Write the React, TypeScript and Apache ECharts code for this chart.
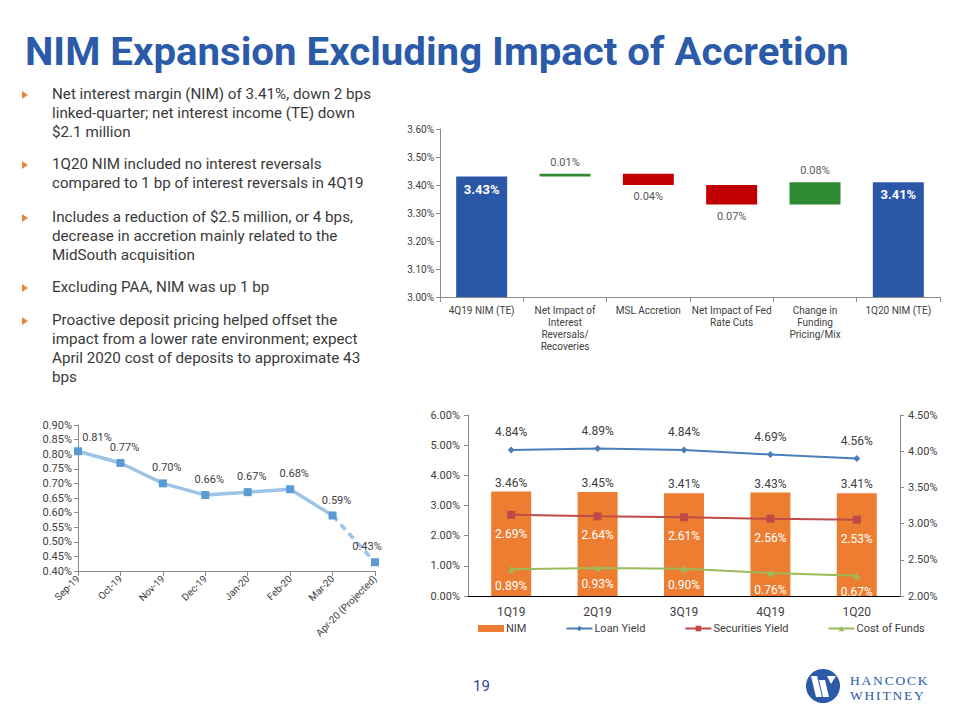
import React, { useEffect, useRef } from "react";
import * as echarts from "echarts";

// ---------- data ----------
const wfCategories = [
  "4Q19 NIM (TE)",
  "Net Impact of\nInterest\nReversals/\nRecoveries",
  "MSL Accretion",
  "Net Impact of Fed\nRate Cuts",
  "Change in\nFunding\nPricing/Mix",
  "1Q20 NIM (TE)",
];
const wfStart = 3.43;
const wfChanges = [0.01, -0.04, -0.07, 0.08];
const wfEnd = 3.41;
const wfTicks = { min: 3.0, max: 3.6, interval: 0.1 };

const months = ["Sep-19", "Oct-19", "Nov-19", "Dec-19", "Jan-20", "Feb-20", "Mar-20", "Apr-20 (Projected)"];
const depositCost = [0.81, 0.77, 0.7, 0.66, 0.67, 0.68, 0.59, 0.43];
const projectedCount = 1; // last point(s) projected
const depTicks = { min: 0.4, max: 0.9, interval: 0.05 };

const quarters = ["1Q19", "2Q19", "3Q19", "4Q19", "1Q20"];
const nimValues = [3.46, 3.45, 3.41, 3.43, 3.41];
const loanYield = [4.84, 4.89, 4.84, 4.69, 4.56];
const securitiesYield = [2.69, 2.64, 2.61, 2.56, 2.53];
const costOfFunds = [0.89, 0.93, 0.9, 0.76, 0.67];
const leftTicks = { min: 0, max: 6, interval: 1 };
const rightTicks = { min: 2, max: 4.5, interval: 0.5 };

const bullets = [
  ["Net interest margin (NIM) of 3.41%, down 2 bps", "linked-quarter; net interest income (TE) down", "$2.1 million"],
  ["1Q20 NIM included no interest reversals", "compared to 1 bp of interest reversals  in 4Q19"],
  ["Includes a reduction of $2.5 million, or 4 bps,", "decrease  in accretion  mainly related to the", "MidSouth acquisition"],
  ["Excluding PAA, NIM was up 1 bp"],
  ["Proactive deposit pricing helped offset the", "impact from a lower rate environment; expect", "April 2020 cost of deposits to approximate 43", "bps"],
];
const bulletTops = [95, 165, 218, 288, 321];

// ---------- styles ----------
const FONT = "Roboto, 'Liberation Sans', sans-serif";
const TXT = "#404040";
const AXIS = "#8c8c8c";
const BLUE = "#2A57A6";
const RED = "#C00000";
const GREEN = "#2E8B32";
const pct = (v: number) => v.toFixed(2) + "%";
const r2 = (v: number) => Math.round(v * 100) / 100;

function buildWaterfall() {
  const bases: number[] = [0];
  const items: any[] = [
    {
      value: wfStart,
      itemStyle: { color: BLUE },
      label: { show: true, position: "insideTop", color: "#fff", fontWeight: "bold", fontSize: 13, distance: 6, formatter: pct(wfStart) },
    },
  ];
  let level = wfStart;
  wfChanges.forEach((c) => {
    let base: number;
    if (c >= 0) {
      base = level;
      level = r2(level + c);
    } else {
      level = r2(level + c);
      base = level;
    }
    bases.push(base);
    items.push({
      value: r2(Math.abs(c)),
      itemStyle: { color: c >= 0 ? GREEN : RED },
      label: {
        show: true,
        position: c >= 0 ? "top" : "bottom",
        color: "#595959",
        fontSize: 11,
        distance: 6,
        formatter: pct(Math.abs(c)),
      },
    });
  });
  bases.push(0);
  items.push({
    value: wfEnd,
    itemStyle: { color: BLUE },
    label: { show: true, position: "insideTop", color: "#fff", fontWeight: "bold", fontSize: 13, distance: 6, formatter: pct(wfEnd) },
  });
  return { bases, items };
}

export default function App() {
  const ref = useRef<HTMLDivElement>(null);
  useEffect(() => {
    if (!ref.current) return;
    const chart = echarts.init(ref.current, undefined, { renderer: "svg" });
    const wf = buildWaterfall();
    const n = depositCost.length;
    const solid = depositCost.map((v, i) => (i < n - projectedCount ? v : null));
    const dashed = depositCost.map((v, i) => (i >= n - projectedCount - 1 ? v : null));
    const depLabelOffset = (i: number) => (i === 0 ? [19, 2] : i === n - 1 ? [-8, 0] : [4, 0]);

    const axisLineStyle = { show: true, lineStyle: { color: AXIS, width: 1 } };
    const axisTick = { show: true, length: 4, lineStyle: { color: AXIS } };
    const labelStyle = { color: TXT, fontFamily: FONT, fontSize: 11 };

    chart.setOption({
      animation: false,
      textStyle: { fontFamily: FONT },
      grid: [
        { left: 440, top: 129, width: 500, height: 168 },
        { left: 78, top: 425, width: 297, height: 146 },
        { left: 468, top: 415, width: 432, height: 181 },
      ],
      xAxis: [
        {
          gridIndex: 0,
          type: "category",
          data: wfCategories,
          axisLine: axisLineStyle,
          axisTick: { show: true, length: 5, lineStyle: { color: AXIS } },
          axisLabel: { ...labelStyle, fontSize: 10, lineHeight: 12, margin: 7, interval: 0 },
        },
        {
          gridIndex: 1,
          type: "category",
          data: months,
          boundaryGap: false,
          axisLine: axisLineStyle,
          axisTick: { show: true, length: 5, lineStyle: { color: AXIS } },
          axisLabel: { ...labelStyle, fontSize: 10, rotate: 45, margin: 6, interval: 0 },
        },
        {
          gridIndex: 2,
          type: "category",
          data: quarters,
          axisLine: { show: true, lineStyle: { color: "#000", width: 1 } },
          axisTick: { show: false },
          axisLabel: { ...labelStyle, fontSize: 12, margin: 10 },
        },
      ],
      yAxis: [
        {
          gridIndex: 0,
          type: "value",
          ...wfTicks,
          axisLine: axisLineStyle,
          axisTick,
          splitLine: { show: false },
          axisLabel: { ...labelStyle, fontSize: 10, margin: 6, formatter: (v: number) => pct(v) },
        },
        {
          gridIndex: 1,
          type: "value",
          ...depTicks,
          axisLine: axisLineStyle,
          axisTick,
          splitLine: { show: false },
          axisLabel: { ...labelStyle, fontSize: 11, margin: 6, formatter: (v: number) => pct(v) },
        },
        {
          gridIndex: 2,
          type: "value",
          ...leftTicks,
          axisLine: axisLineStyle,
          axisTick,
          splitLine: { show: false },
          axisLabel: { ...labelStyle, fontSize: 11, margin: 8, formatter: (v: number) => pct(v) },
        },
        {
          gridIndex: 2,
          type: "value",
          position: "right",
          ...rightTicks,
          axisLine: axisLineStyle,
          axisTick,
          splitLine: { show: false },
          axisLabel: { ...labelStyle, fontSize: 11, margin: 8, formatter: (v: number) => pct(v) },
        },
      ],
      legend: {
        left: 473,
        top: 618,
        itemWidth: 26,
        itemHeight: 7,
        itemGap: 39,
        textStyle: { color: TXT, fontSize: 11, fontFamily: FONT, padding: [0, 0, 0, -3] },
        data: [
          { name: "NIM", icon: "rect" },
          { name: "Loan Yield" },
          { name: "Securities Yield" },
          { name: "Cost of Funds" },
        ],
      },
      series: [
        {
          type: "bar",
          xAxisIndex: 0,
          yAxisIndex: 0,
          stack: "wf",
          data: wf.bases,
          barWidth: 51,
          itemStyle: { color: "transparent" },
          silent: true,
        },
        {
          type: "bar",
          xAxisIndex: 0,
          yAxisIndex: 0,
          stack: "wf",
          data: wf.items,
          barWidth: 51,
        },
        {
          type: "line",
          xAxisIndex: 1,
          yAxisIndex: 1,
          data: solid.map((v, i) => ({
            value: v,
            label: { offset: depLabelOffset(i) },
          })),
          lineStyle: { color: "#9DC3E6", width: 3.5 },
          symbol: "rect",
          symbolSize: 8,
          itemStyle: { color: "#5B9BD5" },
          label: { show: true, position: "top", distance: 6, color: TXT, fontSize: 11, formatter: (p: any) => pct(p.value) },
          z: 3,
        },
        {
          type: "line",
          xAxisIndex: 1,
          yAxisIndex: 1,
          data: dashed.map((v, i) => ({
            value: v,
            symbol: i === n - 1 ? "rect" : "none",
            label: { show: i === n - 1, offset: depLabelOffset(i) },
          })),
          lineStyle: { color: "#9DC3E6", width: 3.5, type: [7, 5] },
          symbol: "rect",
          symbolSize: 8,
          itemStyle: { color: "#5B9BD5" },
          label: { position: "top", distance: 6, color: TXT, fontSize: 11, formatter: (p: any) => pct(p.value) },
          z: 2,
        },
        {
          name: "NIM",
          type: "bar",
          xAxisIndex: 2,
          yAxisIndex: 2,
          data: nimValues,
          barWidth: 40,
          itemStyle: { color: "#ED7D31" },
          label: { show: true, position: "top", distance: 3, color: TXT, fontSize: 12, formatter: (p: any) => pct(p.value) },
        },
        {
          name: "Loan Yield",
          type: "line",
          xAxisIndex: 2,
          yAxisIndex: 2,
          data: loanYield,
          symbol: "diamond",
          symbolSize: 7,
          lineStyle: { color: "#4A7EBB", width: 2 },
          itemStyle: { color: "#4A7EBB" },
          label: { show: true, position: "top", distance: 8, color: TXT, fontSize: 12, formatter: (p: any) => pct(p.value) },
        },
        {
          name: "Securities Yield",
          type: "line",
          xAxisIndex: 2,
          yAxisIndex: 2,
          data: securitiesYield,
          symbol: "rect",
          symbolSize: 8,
          lineStyle: { color: "#BE4B48", width: 2 },
          itemStyle: { color: "#BE4B48" },
          label: { show: true, position: "bottom", distance: 9, color: "#fff", fontSize: 12, formatter: (p: any) => pct(p.value) },
        },
        {
          name: "Cost of Funds",
          type: "line",
          xAxisIndex: 2,
          yAxisIndex: 2,
          data: costOfFunds,
          symbol: "triangle",
          symbolSize: 7,
          lineStyle: { color: "#9BBB59", width: 2 },
          itemStyle: { color: "#9BBB59" },
          label: { show: true, position: "bottom", distance: 7, color: "#fff", fontSize: 12, formatter: (p: any) => pct(p.value) },
        },
      ],
      graphic: [
        // logo mark
        { type: "circle", shape: { cx: 823, cy: 686, r: 17 }, style: { fill: "#2A5AA8" } },
        { type: "polygon", shape: { points: [[811, 676], [817, 676], [822, 697], [816, 697]] }, style: { fill: "#fff" } },
        { type: "polygon", shape: { points: [[819, 680], [825, 680], [829, 697], [823, 697]] }, style: { fill: "#fff" } },
        { type: "polygon", shape: { points: [[827, 676], [836, 676], [831, 684]] }, style: { fill: "#fff" } },
        // bullet markers
        ...bulletTops.map((y) => ({
          type: "polygon",
          shape: { points: [[22, y - 4], [28, y], [22, y + 4]] },
          style: { fill: "#E8863A" },
        })),
      ],
    });
    return () => chart.dispose();
  }, []);

  return (
    <div style={{ position: "absolute", left: 0, top: 0, width: 960, height: 720, background: "#fff", overflow: "hidden" }}>
      <div ref={ref} style={{ position: "absolute", left: 0, top: 0, width: 960, height: 720 }} />
      <div
        style={{
          position: "absolute",
          left: 25,
          top: 30,
          fontFamily: FONT,
          fontWeight: 700,
          fontSize: 38,
          color: "#2B5BA8",
          whiteSpace: "nowrap",
          transform: "scaleX(1.058)",
          transformOrigin: "left top",
          lineHeight: "44px",
        }}
      >
        NIM Expansion Excluding Impact of Accretion
      </div>
      {bullets.map((lines, i) => (
        <div
          key={i}
          style={{
            position: "absolute",
            left: 52,
            top: bulletTops[i] - 10,
            fontFamily: FONT,
            fontSize: 15.2,
            lineHeight: "19px",
            color: "#3a3a3a",
            whiteSpace: "nowrap",
          }}
        >
          {lines.map((l, j) => (
            <div key={j}>{l}</div>
          ))}
        </div>
      ))}
      <div style={{ position: "absolute", left: 473, top: 677, fontFamily: FONT, fontSize: 15, color: "#3B3B9E" }}>19</div>
      <div
        style={{
          position: "absolute",
          left: 850,
          top: 673,
          fontFamily: "'Liberation Serif', 'DejaVu Serif', serif",
          fontSize: 13.5,
          lineHeight: "15px",
          letterSpacing: "1.8px",
          color: "#2A5AA8",
        }}
      >
        <div>HANCOCK</div>
        <div>WHITNEY</div>
      </div>
    </div>
  );
}
